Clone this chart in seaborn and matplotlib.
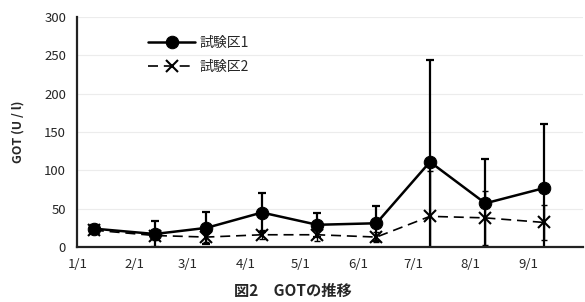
import matplotlib.pyplot as plt
import matplotlib.dates as mdates
from matplotlib.ticker import FuncFormatter
import pandas as pd
import seaborn as sns

# sampling dates and GOT values (mean, error)
dates = ['2000-01-10', '2000-02-12', '2000-03-11', '2000-04-10', '2000-05-10',
         '2000-06-11', '2000-07-10', '2000-08-09', '2000-09-10']
plot1 = [24, 17, 25, 45, 29, 31, 111, 57, 77]
plot1_err = [5, 17, 21, 25, 16, 23, 133, 58, 83]
plot2 = [22, 15, 13, 16, 16, 13, 40, 38, 32]
plot2_err = [4, 6, 6, 6, 8, 6, 59, 35, 23]
series_names = ['試験区1', '試験区2']
tick_dates = ['2000-01-01', '2000-02-01', '2000-03-01', '2000-04-01', '2000-05-01',
              '2000-06-01', '2000-07-01', '2000-08-01', '2000-09-01']

df = pd.DataFrame({'date': pd.to_datetime(dates), 'plot1': plot1, 'plot2': plot2})

sns.set_style('white')
plt.rcParams['font.family'] = ['Noto Sans CJK JP', 'DejaVu Sans']

fig, ax = plt.subplots(figsize=(5.85, 3.02), dpi=100)
fig.subplots_adjust(left=0.132, right=0.997, bottom=0.182, top=0.944)

ax.errorbar(df['date'], df['plot1'], yerr=plot1_err, fmt='none', ecolor='black',
            elinewidth=1.6, capsize=3, capthick=1.6, zorder=2)
ax.errorbar(df['date'], df['plot2'], yerr=plot2_err, fmt='none', ecolor='black',
            elinewidth=1.0, capsize=2.5, capthick=1.0, zorder=2)

sns.lineplot(data=df, x='date', y='plot2', ax=ax, color='black', linewidth=1.2,
             linestyle=(0, (6, 3.5)), marker='x', markersize=8, markeredgewidth=1.5,
             markeredgecolor='black', label=series_names[1], zorder=3)
sns.lineplot(data=df, x='date', y='plot1', ax=ax, color='black', linewidth=1.8,
             marker='o', markersize=9, markeredgecolor='black',
             label=series_names[0], zorder=4)

ax.set_ylim(0, 300)
ax.set_yticks(range(0, 301, 50))
ax.set_xlim(pd.Timestamp('2000-01-01'), pd.Timestamp('2000-10-01'))
ax.set_xticks(pd.to_datetime(tick_dates))
ax.xaxis.set_major_formatter(FuncFormatter(lambda v, p: f"{mdates.num2date(v).month}/{mdates.num2date(v).day}"))

ax.grid(axis='y', color='#ececec', linewidth=0.8)
ax.set_axisbelow(True)
for s in ['top', 'right']:
    ax.spines[s].set_visible(False)
for s in ['left', 'bottom']:
    ax.spines[s].set_color('#222222')
    ax.spines[s].set_linewidth(1.6)

ax.tick_params(axis='x', direction='in', length=3, width=1, labelsize=9.5, pad=8)
ax.tick_params(axis='y', length=0, labelsize=9.5, pad=8)

ax.set_xlabel('')
ax.set_ylabel('GOT (U / l)', fontsize=9, fontweight='bold', labelpad=14)

handles, labels = ax.get_legend_handles_labels()
ax.legend(handles[::-1], labels[::-1], loc='upper left', bbox_to_anchor=(0.115, 0.97),
          frameon=False, fontsize=10, handlelength=3.4, handletextpad=0.3, labelspacing=0.7)

fig.text(0.5, 0.01, '図2　GOTの推移', ha='center', va='bottom', fontsize=11, fontweight='bold')

fig.savefig('out.png')
